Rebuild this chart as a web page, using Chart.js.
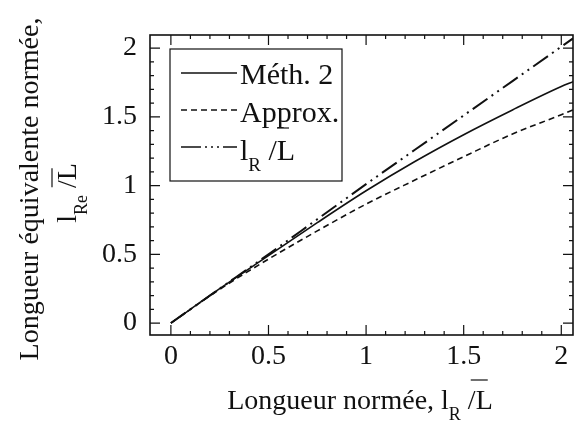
<!DOCTYPE html>
<html>
<head>
<meta charset="utf-8">
<script src="https://cdn.jsdelivr.net/npm/chart.js@4"></script>
<style>
html,body{margin:0;padding:0;background:#fff;}
canvas{display:block;}
</style>
</head>
<body>
<canvas id="c" width="576" height="425"></canvas>
<script>
// ---- data ----
const xValues   = [0, 0.25, 0.5, 0.75, 1, 1.25, 1.5, 1.75, 2, 2.06];
const meth2     = [0, 0.25, 0.49, 0.73, 0.962, 1.175, 1.37, 1.55, 1.72, 1.755];
const approx    = [0, 0.245, 0.465, 0.67, 0.865, 1.04, 1.21, 1.375, 1.515, 1.55];
const lrOverL   = [0, 0.25, 0.5, 0.755, 1.01, 1.26, 1.51, 1.76, 2.01, 2.07];
const xTickValues = [0, 0.5, 1, 1.5, 2];
const xTickLabels = ['0', '0.5', '1', '1.5', '2'];
const yTickValues = [0, 0.5, 1, 1.5, 2];
const yTickLabels = ['0', '0.5', '1', '1.5', '2'];
const seriesNames = ['Méth. 2', 'Approx.', 'l_R/L'];

const FONT = '"Liberation Serif", "DejaVu Serif", serif';
const INK = '#111';

function pts(ys){ return xValues.map((x,i)=>({x:x, y:ys[i]})); }

const dashes = [[], [6,4], [18,5,2,5,2,5]];

// draw text with subscripts; parts: [text, isSub]
function drawParts(ctx, parts, x, y, size, subSize, subDrop){
  let cx = x;
  parts.forEach(p=>{
    ctx.font = (p[1] ? subSize : size) + 'px ' + FONT;
    ctx.fillText(p[0], cx, y + (p[1] ? subDrop : 0));
    cx += ctx.measureText(p[0]).width;
  });
  return cx;
}
function partsWidth(ctx, parts, size, subSize){
  let w = 0;
  parts.forEach(p=>{ ctx.font = (p[1]?subSize:size)+'px '+FONT; w += ctx.measureText(p[0]).width; });
  return w;
}

const overlay = {
  id: 'overlay',
  afterDraw(chart){
    const ctx = chart.ctx, a = chart.chartArea;
    const xs = chart.scales.x, ys = chart.scales.y;
    ctx.save();
    ctx.strokeStyle = INK; ctx.fillStyle = INK;
    // frame
    ctx.lineWidth = 1.6;
    ctx.strokeRect(a.left, a.top, a.right - a.left, a.bottom - a.top);
    // ticks (inward, mirrored)
    ctx.lineWidth = 1.2;
    ctx.beginPath();
    for (let k = 0; k <= 20; k++){
      const v = k / 10, major = (k % 5 === 0);
      const L = major ? 10 : 4;
      const px = xs.getPixelForValue(v);
      if (px <= a.right){
        ctx.moveTo(px, a.bottom); ctx.lineTo(px, a.bottom - L);
        ctx.moveTo(px, a.top); ctx.lineTo(px, a.top + L);
      }
      const py = ys.getPixelForValue(v);
      if (py >= a.top){
        ctx.moveTo(a.left, py); ctx.lineTo(a.left + L, py);
        ctx.moveTo(a.right, py); ctx.lineTo(a.right - L, py);
      }
    }
    ctx.stroke();

    // legend
    const lx = 170, ly = 49, lw = 172, lh = 132;
    ctx.lineWidth = 1.2;
    ctx.strokeRect(lx, ly, lw, lh);
    const rowsY = [73, 110, 147];
    const baseY = [84, 122, 160];
    const legDash = [[], [6,4], [20,4,2,4,2,4,2,4]];
    chart.data.datasets.forEach((ds, i)=>{
      ctx.save();
      ctx.lineWidth = 1.6;
      ctx.setLineDash(legDash[i]);
      ctx.beginPath(); ctx.moveTo(181, rowsY[i]); ctx.lineTo(237, rowsY[i]); ctx.stroke();
      ctx.restore();
    });
    ctx.textBaseline = 'alphabetic'; ctx.textAlign = 'left';
    ctx.font = '30px ' + FONT;
    ctx.fillText(seriesNames[0], 240, baseY[0]);
    ctx.fillText(seriesNames[1], 240, baseY[1]);
    drawParts(ctx, [['l',0],['R',1],[' /L',0]], 240, baseY[2], 30, 19, 11);
    ctx.lineWidth = 1.2;
    ctx.beginPath(); ctx.moveTo(277, 128); ctx.lineTo(289, 128); ctx.stroke();

    // x title
    const xp = [['Longueur normée, l',0],['R',1],[' /L',0]];
    const xw = partsWidth(ctx, xp, 28, 18);
    const xe = drawParts(ctx, xp, 360 - xw/2, 409, 28, 18, 11);
    ctx.beginPath(); ctx.moveTo(xe - 22, 380); ctx.lineTo(xe - 5, 380); ctx.stroke();

    // y title (rotated)
    ctx.save();
    ctx.rotate(-Math.PI/2);
    ctx.font = '28px ' + FONT;
    ctx.textAlign = 'center';
    ctx.fillText('Longueur équivalente normée,', -189, 38);
    ctx.textAlign = 'left';
    const yp = [['l',0],['Re',1],[' /L',0]];
    const yw = partsWidth(ctx, yp, 28, 18);
    const ye = drawParts(ctx, yp, -193 - yw/2, 76, 28, 18, 11);
    ctx.lineWidth = 1.2;
    ctx.beginPath(); ctx.moveTo(ye - 24, 52); ctx.lineTo(ye - 5, 52); ctx.stroke();
    ctx.restore();

    ctx.restore();
  }
};

new Chart(document.getElementById('c'), {
  type: 'line',
  data: {
    datasets: [
      { label: seriesNames[0], data: pts(meth2), borderColor: INK, borderWidth: 1.6, borderDash: dashes[0], pointRadius: 0, fill: false, cubicInterpolationMode: 'monotone' },
      { label: seriesNames[1], data: pts(approx), borderColor: INK, borderWidth: 1.6, borderDash: dashes[1], pointRadius: 0, fill: false, cubicInterpolationMode: 'monotone' },
      { label: seriesNames[2], data: pts(lrOverL), borderColor: INK, borderWidth: 2, borderDash: dashes[2], pointRadius: 0, fill: false, cubicInterpolationMode: 'monotone' }
    ]
  },
  options: {
    responsive: false,
    animation: false,
    devicePixelRatio: 1,
    layout: { padding: { top: 35, right: 3, bottom: 0, left: 0 } },
    plugins: { legend: { display: false }, tooltip: { enabled: false }, title: { display: false } },
    scales: {
      x: {
        type: 'linear', min: -0.107, max: 2.06,
        grid: { display: false, drawTicks: false },
        border: { display: false },
        afterBuildTicks: s => { s.ticks = xTickValues.map(v => ({ value: v })); },
        afterFit: s => { s.height = 90; },
        ticks: { padding: 5, maxRotation: 0, autoSkip: false, color: INK, font: { family: FONT, size: 28 },
                 callback: (v, i) => xTickLabels[i] }
      },
      y: {
        type: 'linear', min: -0.087, max: 2.095,
        grid: { display: false, drawTicks: false },
        border: { display: false },
        afterBuildTicks: s => { s.ticks = yTickValues.map(v => ({ value: v })); },
        afterFit: s => { s.width = 150; },
        ticks: { padding: 13, autoSkip: false, color: INK, font: { family: FONT, size: 28 },
                 callback: (v, i) => yTickLabels[i] }
      }
    }
  },
  plugins: [overlay]
});
</script>
</body>
</html>
